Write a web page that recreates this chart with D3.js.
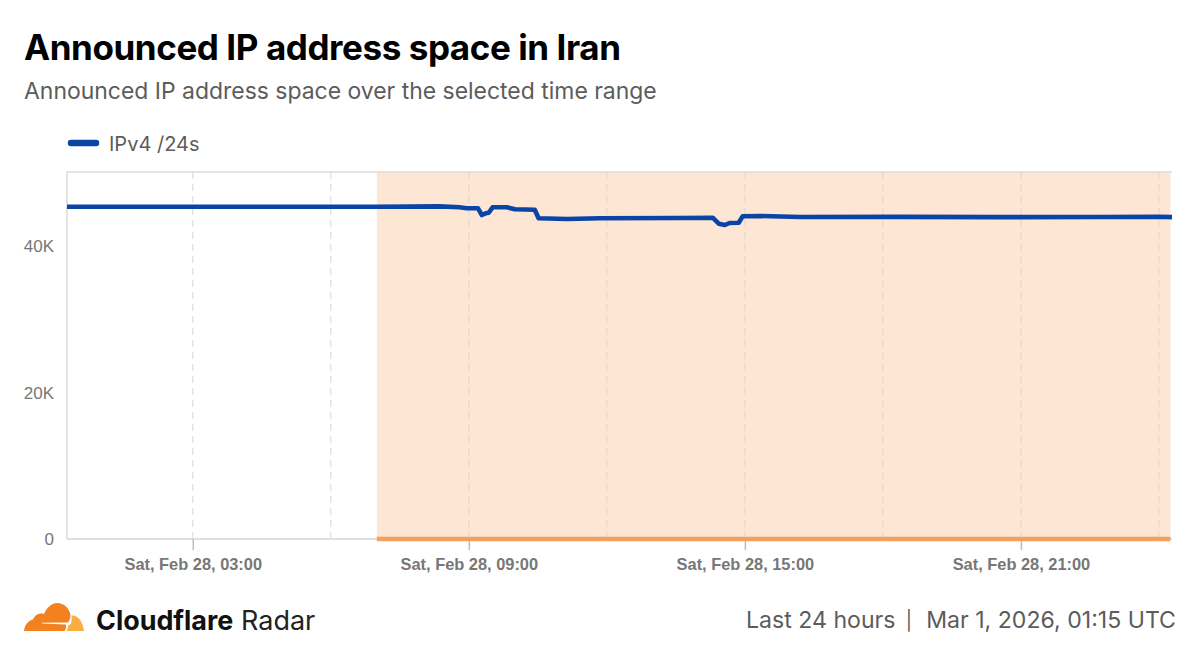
<!DOCTYPE html>
<html><head><meta charset="utf-8">
<script src="https://cdn.jsdelivr.net/npm/d3@7"></script>
<style>html,body{margin:0;padding:0;background:#fff;overflow:hidden}svg{display:block}text{font-family:Inter,"Liberation Sans",sans-serif}</style>
</head><body><svg id="c" width="1200" height="657"></svg>
<script>
const titleText = "Announced IP address space in Iran";
const subtitleText = "Announced IP address space over the selected time range";
const seriesName = "IPv4 /24s";
const times = ["2026-02-28T00:16","2026-02-28T02:00","2026-02-28T04:00","2026-02-28T06:00","2026-02-28T07:00","2026-02-28T08:22","2026-02-28T08:48","2026-02-28T08:57","2026-02-28T09:12","2026-02-28T09:17","2026-02-28T09:22","2026-02-28T09:26","2026-02-28T09:31","2026-02-28T09:50","2026-02-28T10:00","2026-02-28T10:26","2026-02-28T10:31","2026-02-28T11:08","2026-02-28T11:51","2026-02-28T13:35","2026-02-28T14:18","2026-02-28T14:26","2026-02-28T14:34","2026-02-28T14:40","2026-02-28T14:52","2026-02-28T14:57","2026-02-28T15:20","2026-02-28T16:12","2026-02-28T18:20","2026-02-28T20:30","2026-02-28T22:40","2026-03-01T00:00","2026-03-01T00:17"];
const values = [45430,45420,45420,45425,45425,45470,45343,45206,45206,44291,44523,44605,45343,45343,45069,45015,43840,43744,43840,43881,43922,43102,42924,43197,43238,44113,44154,44017,44030,44000,44010,44060,44000];
const yTicks = [0,20000,40000];
const yTickLabels = ["0","20K","40K"];
const majorTicks = ["2026-02-28T03:00","2026-02-28T09:00","2026-02-28T15:00","2026-02-28T21:00"];
const gridTimes = ["2026-02-28T03:00","2026-02-28T06:00","2026-02-28T09:00","2026-02-28T12:00","2026-02-28T15:00","2026-02-28T18:00","2026-02-28T21:00","2026-03-01T00:00"];
const highlightRange = ["2026-02-28T07:00","2026-03-01T00:15"];

const parse = d3.timeParse("%Y-%m-%dT%H:%M");
const fmt = d3.timeFormat("%a, %b %d, %H:%M");
const L = 67, R = 1172, T = 172, B = 539;
const x = d3.scaleTime().domain([parse(times[0]), parse(times[times.length-1])]).range([L,R]);
const y = d3.scaleLinear().domain([0,50000]).range([B,173.25]);
const svg = d3.select("#c");
const hx0 = x(parse(highlightRange[0])), hx1 = x(parse(highlightRange[1]));

svg.append("text").attr("x",24).attr("y",60).attr("font-size",35).attr("font-weight",700).attr("fill","#000").attr("letter-spacing","-0.42").text(titleText);
svg.append("text").attr("x",24).attr("y",99).attr("font-size",22.95).attr("fill","#5c5c5c").text(subtitleText);

// legend
svg.append("line").attr("x1",71).attr("x2",96).attr("y1",143).attr("y2",143).attr("stroke","#0a45a6").attr("stroke-width",6.5).attr("stroke-linecap","round");
svg.append("text").attr("x",109).attr("y",151).attr("font-size",20).attr("fill","#5c5c5c").text(seriesName);

// highlighted range
svg.append("rect").attr("x",hx0).attr("y",T).attr("width",hx1-hx0).attr("height",B-T).attr("fill","#fde6d3");

// frame
svg.append("path").attr("d",`M${L},${B}V${T}H${R}`).attr("fill","none").attr("stroke","#dcdcdc").attr("stroke-width",1.5);
svg.append("line").attr("x1",L).attr("x2",R).attr("y1",B).attr("y2",B).attr("stroke","#d6d6d6").attr("stroke-width",1.5);

// grid
svg.append("g").selectAll("line").data(gridTimes).join("line")
  .attr("x1",d=>x(parse(d))).attr("x2",d=>x(parse(d))).attr("y1",T).attr("y2",B)
  .attr("stroke","#dcd6d0").attr("stroke-width",1).attr("stroke-dasharray","7,5");

// x axis
const xAxis = d3.axisBottom(x).tickValues(majorTicks.map(parse)).tickFormat(fmt).tickSize(11).tickPadding(8);
const gx = svg.append("g").attr("transform",`translate(0,${B})`).call(xAxis);
gx.select(".domain").remove();
gx.selectAll("line").attr("stroke","#bdbdbd").attr("stroke-width",1.5);
gx.selectAll("text").style("font-family","'Liberation Sans',sans-serif").attr("font-size",16.4).attr("font-weight",700).attr("fill","#777");

// y axis
const yAxis = d3.axisLeft(y).tickValues(yTicks).tickFormat((d,i)=>yTickLabels[i]).tickSize(0).tickPadding(13);
const gy = svg.append("g").attr("transform",`translate(${L},0)`).call(yAxis);
gy.select(".domain").remove();
gy.selectAll("text").style("font-family","'Liberation Sans',sans-serif").attr("font-size",17).attr("fill","#777");

// highlight base bar
svg.append("line").attr("x1",hx0).attr("x2",hx1).attr("y1",B).attr("y2",B).attr("stroke","#f5a15c").attr("stroke-width",4.5);

// series
const line = d3.line().x((d,i)=>x(parse(times[i]))).y(d=>y(d));
svg.append("path").datum(values).attr("d",line).attr("fill","none").attr("stroke","#0a45a6").attr("stroke-width",4.6).attr("stroke-linejoin","round");

// logo
const logo = svg.append("g");
logo.append("path").attr("d","M24,631 C24.5,625.5 28,620.5 33,619.5 C35,614.5 40,612.5 44,614 C47,607 52,603 57,603 C64,603 69.5,608.5 70.5,615 C70.5,618 69.5,620.5 68,622.5 L42,622.8 L42,623.6 L66,624.5 C66.5,627 65.5,629.5 64.5,631 Z").attr("fill","#f48120");
logo.append("path").attr("d","M66.5,631 C67.5,629 68.5,626.5 68.5,625 L71,624 C71.5,621 72,618 71.5,615.5 C78,614.5 83,622 84,631 Z").attr("fill","#fbae40");

svg.append("text").attr("x",96).attr("y",630).attr("font-size",26.9).attr("font-weight",700).attr("fill","#111").text("Cloudflare");
svg.append("text").attr("x",241).attr("y",630).attr("font-size",27).attr("fill","#222").text("Radar");
const footer = ["Last 24 hours","|","Mar 1, 2026, 01:15 UTC"];
svg.append("text").attr("x",746).attr("y",628).attr("font-size",23.1).attr("fill","#5c5c5c").text(footer[0]);
svg.append("text").attr("x",909).attr("y",627).attr("text-anchor","middle").attr("font-size",19).attr("fill","#5c5c5c").text(footer[1]);
svg.append("text").attr("x",1176).attr("y",628).attr("text-anchor","end").attr("font-size",23.1).attr("fill","#5c5c5c").text(footer[2]);
</script></body></html>
